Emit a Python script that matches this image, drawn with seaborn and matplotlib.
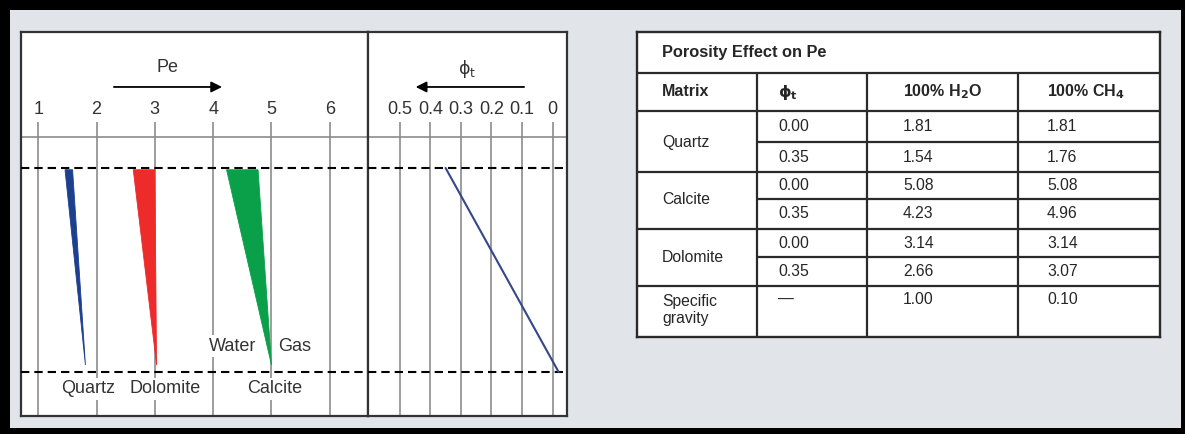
import numpy as np
import pandas as pd
import matplotlib.pyplot as plt
import seaborn as sns
from matplotlib.patches import Rectangle, Polygon

# ---- chart data ----
pe_ticks = [1, 2, 3, 4, 5, 6]
phi_ticks = [0.5, 0.4, 0.3, 0.2, 0.1, 0.0]
phi_tick_labels = ["0.5", "0.4", "0.3", "0.2", "0.1", "0"]

minerals = ["Quartz", "Dolomite", "Calcite"]
pe_water_top = [1.46, 2.63, 4.23]
pe_gas_top = [1.59, 3.00, 4.77]
pe_tip = [1.81, 3.03, 5.00]
wedge_phi = [0.347, 0.012]          # porosity at wedge top / tip
ref_levels = [0.35, 0.0]            # dashed lines
phi_line_x = [0.35, -0.02]
phi_line_y = [0.35, 0.0]

# ---- table data ----
table_title = "Porosity Effect on Pe"
table_headers = ["Matrix", r"$\mathbf{\phi_t}$", r"100% H$_\mathbf{2}$O", r"100% CH$_\mathbf{4}$"]
table_matrix = ["Quartz", "Calcite", "Dolomite"]
table_phi = ["0.00", "0.35"]
table_h2o = [["1.81", "1.54"], ["5.08", "4.23"], ["3.14", "2.66"]]
table_ch4 = [["1.81", "1.76"], ["5.08", "4.96"], ["3.14", "3.07"]]
sg_label = "Specific\ngravity"
sg_values = ["\u2014", "1.00", "0.10"]

sns.set_theme(style="white")
plt.rcParams["font.family"] = ["Liberation Sans Narrow", "Liberation Sans", "DejaVu Sans"]

W, H = 1185, 434
fig = plt.figure(figsize=(W / 100, H / 100), dpi=100)
fig.patch.set_facecolor("black")
fig.add_artist(Rectangle((10 / W, 6 / H), 1171 / W, 418 / H,
                         transform=fig.transFigure, facecolor="#e1e5e9",
                         edgecolor="none", zorder=0))


def px_axes(x0, x1, y0, y1):
    return fig.add_axes([x0 / W, (H - y1) / H, (x1 - x0) / W, (y1 - y0) / H])


ink = "#333333"
grid = "#8c8c8c"
ylo, yhi = -0.0746, 0.5833
grid_top = 0.429
sep_y = 0.403
fs = 13

# ---- Pe track ----
ax = px_axes(21.5, 368, 32, 415.5)
ax.set_xlim(0.714, 6.655)
ax.set_ylim(ylo, yhi)
ax.vlines(pe_ticks, ylo, grid_top, color=grid, lw=1.2, zorder=1)
for t in pe_ticks:
    ax.text(t, 0.4495, str(t), ha="center", va="center", fontsize=fs, color=ink)
ax.axhline(sep_y, color=grid, lw=1.2, zorder=1)
for lev in ref_levels:
    ax.axhline(lev, color="black", lw=1.5, ls=(0, (4, 2.4)), zorder=3)

colors = ["#1d3f8f", "#ee2b2b", "#0aa04a"]
for wl, gs, tp, c in zip(pe_water_top, pe_gas_top, pe_tip, colors):
    ax.add_patch(Polygon([(wl, wedge_phi[0]), (gs, wedge_phi[0]), (tp, wedge_phi[1])],
                         closed=True, facecolor=c, edgecolor=c, lw=0.6, zorder=2))

lbl = dict(ha="center", va="center", fontsize=fs, color=ink, zorder=4,
           bbox=dict(facecolor="white", edgecolor="none", pad=1.5))
for name, xpos in zip(minerals, [1.85, 3.17, 5.05]):
    ax.text(xpos, -0.029, name, **lbl)
ax.text(4.34, 0.0446, "Water", **lbl)
ax.text(5.39, 0.0446, "Gas", **lbl)

ax.text(3.21, 0.523, "Pe", ha="center", va="center", fontsize=fs, color=ink)
ax.annotate("", xy=(4.20, 0.489), xytext=(2.25, 0.489),
            arrowprops=dict(arrowstyle="-|>", color="black", lw=1.3, mutation_scale=16))
ax.set_xticks([])
ax.set_yticks([])
for s in ax.spines.values():
    s.set_color(ink)
    s.set_linewidth(1.6)

# ---- porosity track ----
ax2 = px_axes(368, 566.5, 32, 415.5)
ax2.set_xlim(0.604, -0.0457)
ax2.set_ylim(ylo, yhi)
ax2.vlines(phi_ticks, ylo, grid_top, color=grid, lw=1.2, zorder=1)
for t, s in zip(phi_ticks, phi_tick_labels):
    ax2.text(t, 0.4495, s, ha="center", va="center", fontsize=fs, color=ink)
ax2.axhline(sep_y, color=grid, lw=1.2, zorder=1)
for lev in ref_levels:
    ax2.axhline(lev, color="black", lw=1.5, ls=(0, (4, 2.4)), zorder=3)
line_df = pd.DataFrame({"phi": phi_line_x, "level": phi_line_y})
sns.lineplot(data=line_df, x="phi", y="level", sort=False, color="#34478a",
             lw=1.5, ax=ax2, zorder=4)
ax2.text(0.28, 0.52, r"$\mathrm{\phi_t}$", ha="center", va="center", fontsize=12.5, color=ink)
ax2.annotate("", xy=(0.457, 0.489), xytext=(0.084, 0.489),
             arrowprops=dict(arrowstyle="-|>", color="black", lw=1.3, mutation_scale=16))
ax2.set_xticks([])
ax2.set_yticks([])
ax2.set_xlabel("")
ax2.set_ylabel("")
for s in ax2.spines.values():
    s.set_color(ink)
    s.set_linewidth(1.6)

# ---- table ----
tx = [637, 757, 867, 1018, 1160]
ty = [32, 73, 111, 142, 172, 199, 229, 257, 286, 337]
axt = px_axes(tx[0], tx[-1], ty[0], ty[-1])
axt.set_xlim(tx[0], tx[-1])
axt.set_ylim(ty[-1], ty[0])
axt.set_facecolor("white")
axt.set_xticks([])
axt.set_yticks([])
for s in axt.spines.values():
    s.set_color("#2a2a2a")
    s.set_linewidth(1.7)
tl = dict(color="#2a2a2a", lw=1.6)
axt.hlines([ty[1], ty[2], ty[4], ty[6], ty[8]], tx[0], tx[-1], **tl)
axt.hlines([ty[3], ty[5], ty[7]], tx[1], tx[-1], **tl)
axt.vlines(tx[1:4], ty[1], ty[-1], **tl)

col_x = [662, 778, 903, 1047]
tc = "#262626"
tfs = 11.3
axt.text(col_x[0], 53, table_title, ha="left", va="center", fontsize=11.8,
         fontweight="bold", color=tc)
for cx, htxt in zip(col_x, table_headers):
    axt.text(cx, 92, htxt, ha="left", va="center", fontsize=11.5,
             fontweight="bold", color=tc)
for i, name in enumerate(table_matrix):
    top = ty[2 + 2 * i]
    mid = ty[3 + 2 * i]
    bot = ty[4 + 2 * i]
    axt.text(col_x[0], mid, name, ha="left", va="center", fontsize=tfs, color=tc)
    for j, yc in enumerate([(top + mid) / 2, (mid + bot) / 2]):
        axt.text(col_x[1], yc, table_phi[j], ha="left", va="center", fontsize=tfs, color=tc)
        axt.text(col_x[2], yc, table_h2o[i][j], ha="left", va="center", fontsize=tfs, color=tc)
        axt.text(col_x[3], yc, table_ch4[i][j], ha="left", va="center", fontsize=tfs, color=tc)
axt.text(col_x[0], 310, sg_label, ha="left", va="center", fontsize=tfs, color=tc,
         linespacing=1.15)
for cx, v in zip(col_x[1:], sg_values):
    axt.text(cx, 299, v, ha="left", va="center", fontsize=tfs, color=tc)

fig.savefig("out.png", dpi=100, facecolor=fig.get_facecolor())
